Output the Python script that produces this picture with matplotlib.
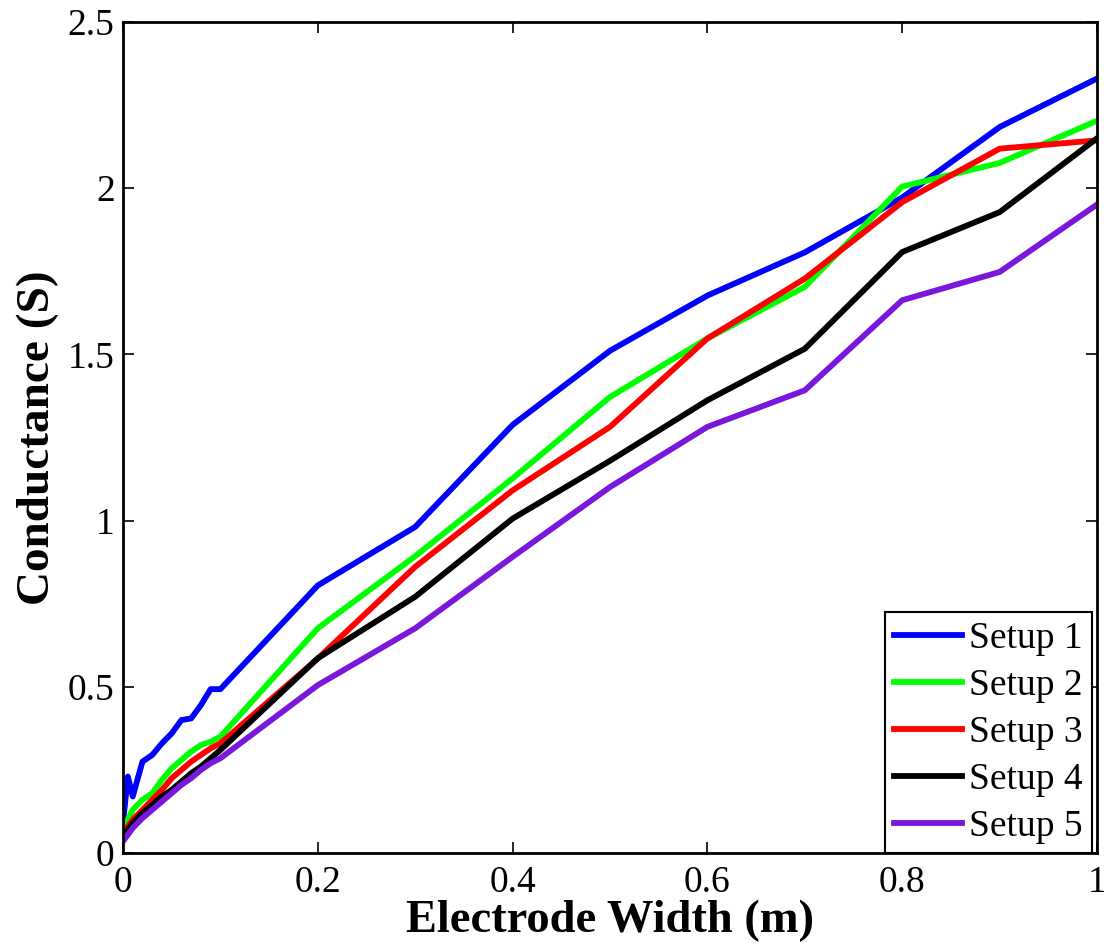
import matplotlib.pyplot as plt

plt.rcParams['font.family'] = ['Liberation Serif', 'DejaVu Serif']

# electrode width (m)
width = [0, 0.005, 0.01, 0.02, 0.03, 0.04, 0.05, 0.06, 0.07, 0.08, 0.09, 0.1,
         0.2, 0.3, 0.4, 0.5, 0.6, 0.7, 0.8, 0.9, 1.0]

# conductance (S) for each setup
setup1 = [0.09, 0.23, 0.17, 0.275, 0.295, 0.33, 0.36, 0.40, 0.405, 0.445, 0.493, 0.493,
          0.805, 0.981, 1.288, 1.511, 1.677, 1.807, 1.972, 2.184, 2.33]
setup2 = [0.06, 0.10, 0.13, 0.16, 0.18, 0.22, 0.255, 0.28, 0.305, 0.325, 0.335, 0.35,
          0.676, 0.893, 1.127, 1.372, 1.548, 1.703, 2.005, 2.076, 2.203]
setup3 = [0.05, 0.08, 0.10, 0.13, 0.16, 0.19, 0.225, 0.25, 0.275, 0.295, 0.315, 0.33,
          0.585, 0.861, 1.091, 1.282, 1.548, 1.728, 1.958, 2.119, 2.144]
setup4 = [0.045, 0.07, 0.09, 0.12, 0.145, 0.17, 0.19, 0.215, 0.24, 0.26, 0.285, 0.31,
          0.586, 0.771, 1.006, 1.18, 1.362, 1.517, 1.808, 1.928, 2.15]
setup5 = [0.035, 0.055, 0.075, 0.105, 0.13, 0.155, 0.18, 0.205, 0.225, 0.25, 0.27, 0.285,
          0.505, 0.676, 0.891, 1.101, 1.282, 1.392, 1.663, 1.748, 1.951]

labels = ['Setup 1', 'Setup 2', 'Setup 3', 'Setup 4', 'Setup 5']
colors = ['#0000ff', '#00ff00', '#ff0000', '#000000', '#7a17dd']

fig = plt.figure(figsize=(11.04, 9.48), dpi=100)
ax = fig.add_axes([0.1114, 0.1002, 0.8823, 0.8766])

for y, lab, c in zip([setup1, setup2, setup3, setup4, setup5], labels, colors):
    ax.plot(width, y, color=c, lw=4.2, label=lab)

ax.set_xlim(0, 1)
ax.set_ylim(0, 2.5)
ax.set_xticks([0, 0.2, 0.4, 0.6, 0.8, 1])
ax.set_xticklabels(['0', '0.2', '0.4', '0.6', '0.8', '1'])
ax.set_yticks([0, 0.5, 1, 1.5, 2, 2.5])
ax.set_yticklabels(['0', '0.5', '1', '1.5', '2', '2.5'])
ax.tick_params(direction='in', top=True, right=True, length=8, width=1.2,
               labelsize=27)
ax.tick_params(axis='x', pad=9)
ax.tick_params(axis='y', pad=6)
for s in ax.spines.values():
    s.set_linewidth(2)

ax.set_xlabel('Electrode Width (m)', fontsize=33.5, fontweight='bold', labelpad=0)
ax.set_ylabel('Conductance (S)', fontsize=34, fontweight='bold', labelpad=6)

leg = ax.legend(loc='lower right', bbox_to_anchor=(0.995, 0.0), borderaxespad=0,
                fontsize=27, handlelength=1.8, handletextpad=0.2, labelspacing=0.33,
                fancybox=False, framealpha=1, borderpad=0.25)
leg.get_frame().set_edgecolor('black')
leg.get_frame().set_linewidth(1.5)

fig.savefig('out.png', dpi=100)
